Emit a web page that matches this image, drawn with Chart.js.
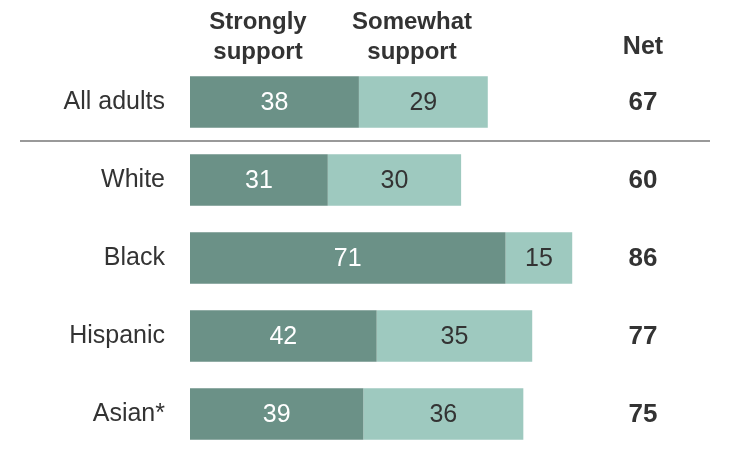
<!DOCTYPE html>
<html>
<head>
<meta charset="utf-8">
<script src="https://cdn.jsdelivr.net/npm/chart.js@4"></script>
<style>
  html, body { margin: 0; padding: 0; background: #fff; overflow: hidden; }
  canvas { display: block; }
</style>
</head>
<body>
<canvas id="supportChart" width="750" height="458"></canvas>
<script>
const groups = ['All adults', 'White', 'Black', 'Hispanic', 'Asian*'];
const strongly = [38, 31, 71, 42, 39];
const somewhat = [29, 30, 15, 35, 36];
const net = [67, 60, 86, 77, 75];
const headers = [['Strongly', 'support'], ['Somewhat', 'support']];

const darkColor = 'rgb(107,145,135)';
const lightColor = 'rgb(158,201,191)';
const textColor = '#333';
const fontFamily = '"Liberation Sans", Arial, Helvetica, sans-serif';

const overlay = {
    id: 'overlay',
    afterDatasetsDraw(chart) {
        const ctx = chart.ctx;
        const yScale = chart.scales.y;
        ctx.save();
        ctx.textBaseline = 'middle';

        // group names
        ctx.font = '25px ' + fontFamily;
        ctx.fillStyle = textColor;
        ctx.textAlign = 'right';
        groups.forEach(function (g, i) {
            ctx.fillText(g, 165, yScale.getPixelForValue(i));
        });

        // values inside bars
        ctx.textAlign = 'center';
        chart.data.datasets.forEach(function (ds, di) {
            const meta = chart.getDatasetMeta(di);
            meta.data.forEach(function (bar, i) {
                const mid = (bar.x + bar.base) / 2;
                ctx.fillStyle = di === 0 ? '#fff' : textColor;
                ctx.fillText(ds.data[i], mid, bar.y + 1);
            });
        });

        // net column
        ctx.fillStyle = textColor;
        ctx.font = 'bold 26px ' + fontFamily;
        net.forEach(function (v, i) {
            ctx.fillText(v, 643, yScale.getPixelForValue(i) + 1);
        });
        ctx.font = 'bold 25px ' + fontFamily;
        ctx.fillText('Net', 643, 47);

        // column headers
        ctx.font = 'bold 24px ' + fontFamily;
        ctx.fillText(headers[0][0], 258, 22);
        ctx.fillText(headers[0][1], 258, 52);
        ctx.fillText(headers[1][0], 412, 22);
        ctx.fillText(headers[1][1], 412, 52);

        // separator under All adults
        const sepY = (yScale.getPixelForValue(0) + yScale.getPixelForValue(1)) / 2;
        ctx.strokeStyle = '#999';
        ctx.lineWidth = 2;
        ctx.beginPath();
        ctx.moveTo(20, sepY);
        ctx.lineTo(710, sepY);
        ctx.stroke();
        ctx.restore();
    }
};

const ctx = document.getElementById('supportChart').getContext('2d');
new Chart(ctx, {
    type: 'bar',
    data: {
        labels: groups,
        datasets: [{
            label: 'Strongly support',
            data: strongly,
            backgroundColor: darkColor,
            barPercentage: 0.66,
            categoryPercentage: 1
        }, {
            label: 'Somewhat support',
            data: somewhat,
            backgroundColor: lightColor,
            barPercentage: 0.66,
            categoryPercentage: 1
        }]
    },
    options: {
        indexAxis: 'y',
        responsive: false,
        animation: false,
        layout: {
            padding: { top: 63, bottom: 5, left: 190, right: 0 }
        },
        plugins: {
            legend: { display: false },
            tooltip: { enabled: false }
        },
        scales: {
            x: {
                stacked: true,
                display: false,
                min: 0,
                max: 126
            },
            y: {
                stacked: true,
                display: false
            }
        }
    },
    plugins: [overlay]
});
</script>
</body>
</html>
